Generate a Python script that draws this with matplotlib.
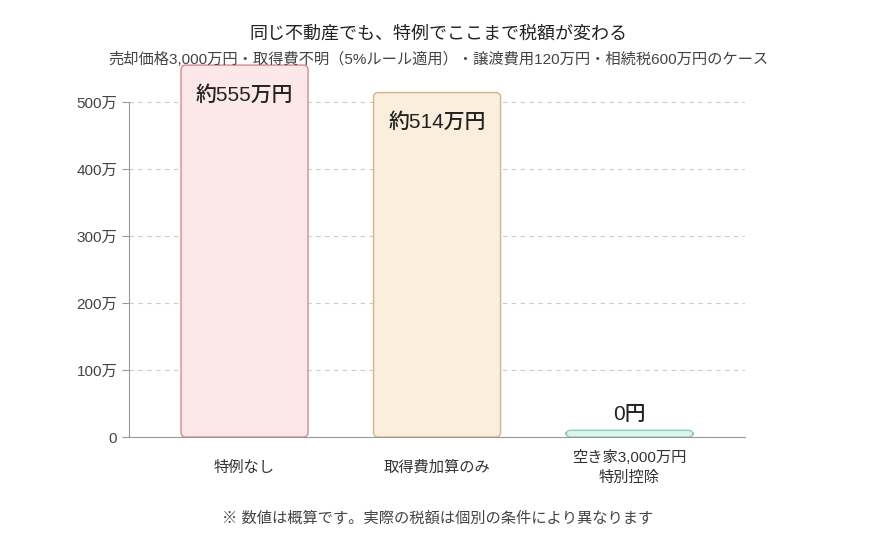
import numpy as np
import matplotlib.pyplot as plt
from matplotlib.patches import FancyBboxPatch

plt.rcParams['font.family'] = ['Liberation Sans', 'Noto Sans CJK JP', 'DejaVu Sans']

# data
categories = ['特例なし', '取得費加算のみ', '空き家3,000万円\n特別控除']
tax_values = [555, 514, 0]
bar_labels = ['約555万円', '約514万円', '0円']
face_colors = ['#fde8e9', '#fbeedc', '#dcf4ea']
edge_colors = ['#d9898c', '#d5b388', '#8ecfb3']
yticks = [0, 100, 200, 300, 400, 500]
ytick_labels = ['0', '100万', '200万', '300万', '400万', '500万']

fig = plt.figure(figsize=(8.76, 5.4), dpi=100)
ax = fig.add_axes([0.1473, 0.1907, 0.7032, 0.7074])

x = np.arange(len(categories))
# zero bar still shown as a thin sliver
shown = [max(v, 10) for v in tax_values]
bars = ax.bar(x, shown, width=0.66)
ax.set_xlim(-0.6, 2.6)
ax.set_ylim(0, 570)

# replace plain rectangles with rounded ones
for i, r in enumerate(bars):
    r.set_visible(False)
    p = FancyBboxPatch((r.get_x(), r.get_y()), r.get_width(), r.get_height(),
                       boxstyle='round,pad=0,rounding_size=0.025',
                       mutation_aspect=288,
                       facecolor=face_colors[i], edgecolor=edge_colors[i],
                       linewidth=1.0, zorder=3)
    ax.add_patch(p)

for i, v in enumerate(tax_values):
    if v > 50:
        ax.text(x[i], v - 44, bar_labels[i], ha='center', va='center',
                fontsize=15, fontweight='medium', color='#222222', zorder=4)
    else:
        ax.text(x[i], shown[i] + 10, bar_labels[i], ha='center', va='bottom',
                fontsize=15, fontweight='medium', color='#222222', zorder=4)

ax.set_yticks(yticks)
ax.set_yticklabels(ytick_labels)
ax.set_xticks(x)
ax.set_xticklabels(categories, linespacing=1.5)
for lab in ax.get_xticklabels():
    lab.set_va('center')
ax.tick_params(axis='x', length=0, pad=22, labelsize=11, colors='#333333')
ax.tick_params(axis='y', length=5, labelsize=11, colors='#444444')
ax.tick_params(axis='y', color='#999999')

ax.yaxis.grid(True, linestyle=(0, (4, 4)), color='#cccccc', linewidth=0.8)
ax.set_axisbelow(True)
for s in ['top', 'right']:
    ax.spines[s].set_visible(False)
ax.spines['left'].set_color('#999999')
ax.spines['bottom'].set_color('#999999')
ax.spines['left'].set_bounds(0, 500)

fig.text(0.5, 0.936, '同じ不動産でも、特例でここまで税額が変わる', ha='center', va='center',
         fontsize=13, color='#222222')
fig.text(0.5, 0.89, '売却価格3,000万円・取得費不明（5%ルール適用）・譲渡費用120万円・相続税600万円のケース',
         ha='center', va='center', fontsize=11, color='#444444')
fig.text(0.5, 0.039, '※ 数値は概算です。実際の税額は個別の条件により異なります', ha='center', va='center',
         fontsize=11, color='#444444')

fig.savefig('out.png', dpi=100)
